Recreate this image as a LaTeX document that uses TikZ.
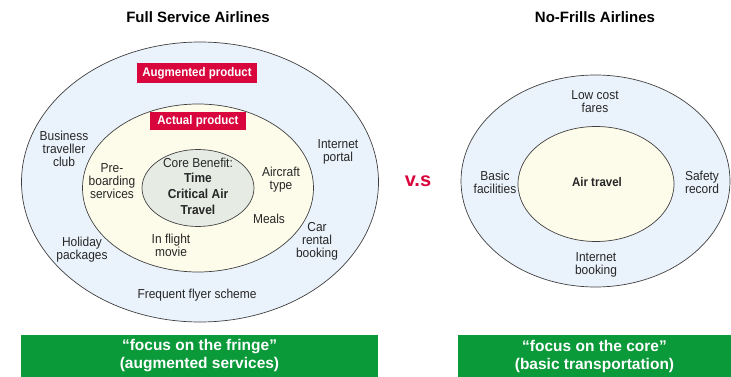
\documentclass[tikz,border=0pt]{standalone}
\usepackage{fontspec}
\setmainfont[FakeStretch=0.92]{Liberation Sans}
\newfontfamily\widefont{Liberation Sans}
\usetikzlibrary{shapes.geometric}

\definecolor{ringblue}{HTML}{EAF2FB}
\definecolor{ringcream}{HTML}{FDFCEA}
\definecolor{ringcore}{HTML}{E6ECE4}
\definecolor{tagred}{HTML}{D9063E}
\definecolor{bannergreen}{HTML}{0B9A3A}

\begin{document}
\begin{tikzpicture}[x=1pt, y=-1pt,
  ring/.style={ellipse, draw=black!75, line width=0.7pt, inner sep=0pt},
  lbl/.style={align=center, text=black!85, font=\fontsize{13}{13}\selectfont},
  tag/.style={fill=tagred, text=white, inner sep=0pt, font=\bfseries\fontsize{12.5}{13}\selectfont},
  heading/.style={font=\widefont\bfseries\fontsize{15}{17}\selectfont},
  banner/.style={fill=bannergreen, text=white, align=center, inner sep=0pt,
    minimum height=42pt, font=\widefont\bfseries\fontsize{15.5}{18}\selectfont}]

\useasboundingbox (0,0) rectangle (731,377);

% full service side
\node[heading] (fsaTitle) at (198,17) {Full Service Airlines};
\node[ring, fill=ringblue, minimum width=357pt, minimum height=280pt] (augRing) at (200,182) {};
\node[ring, fill=ringcream, minimum width=231pt, minimum height=168pt] (actRing) at (198,188) {};
\node[ring, fill=ringcore, minimum width=112pt, minimum height=77pt] (coreRing) at (198,188) {};

\node[tag, minimum width=120pt, minimum height=20pt] (augTag) at (197,73) {Augmented product};
\node[tag, minimum width=96pt, minimum height=18pt] (actTag) at (198,121) {Actual product};

\node[lbl, font=\fontsize{13}{15.7}\selectfont] (core) at (198,186)
  {Core Benefit:\\ \textbf{Time}\\ \textbf{Critical Air}\\ \textbf{Travel}};

\node[lbl] (bizClub) at (64,149) {Business\\traveller\\club};
\node[lbl] (webPortal) at (338,152) {Internet\\portal};
\node[lbl] (preBoard) at (112,181) {Pre-\\boarding\\services};
\node[lbl] (aircraft) at (281,180) {Aircraft\\type};
\node[lbl] (meals) at (269,219) {Meals};
\node[lbl] (carHire) at (317,241) {Car\\rental\\booking};
\node[lbl] (holiday) at (82,250) {Holiday\\packages};
\node[lbl] (movie) at (171,245) {In flight\\movie};
\node[lbl] (flyer) at (197,295) {Frequent flyer scheme};

\node[banner, minimum width=357pt] (fringe) at (199.5,356)
  {“focus on the fringe”\\(augmented services)};

% versus
\node[text=tagred, font=\widefont\bfseries\fontsize{20}{22}\selectfont] (vs) at (418,181) {v.s};

% no-frills side
\node[heading] (nfaTitle) at (595,17) {No-Frills Airlines};
\node[ring, fill=ringblue, minimum width=269pt, minimum height=212pt] (outerRing) at (595.5,181) {};
\node[ring, fill=ringcream, minimum width=156pt, minimum height=115pt] (innerRing) at (596,184) {};

\node[lbl, font=\bfseries\fontsize{12.5}{13}\selectfont] (airTravel) at (597,182) {Air travel};
\node[lbl] (lowFares) at (595,102) {Low cost\\fares};
\node[lbl] (basics) at (495,182) {Basic\\facilities};
\node[lbl] (safety) at (702,182) {Safety\\record};
\node[lbl] (webBook) at (596,265) {Internet\\booking};

\node[banner, minimum width=273pt] (core2) at (594.5,356)
  {“focus on the core”\\(basic transportation)};
\end{tikzpicture}
\end{document}
